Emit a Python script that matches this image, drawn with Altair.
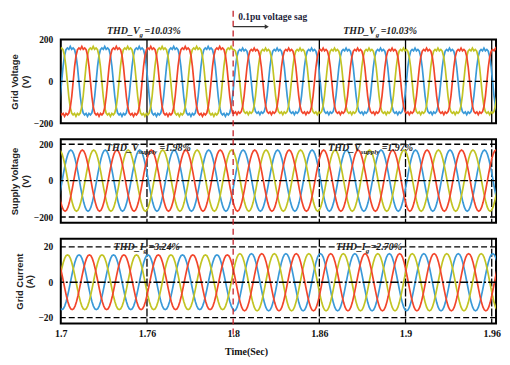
import altair as alt
import pandas as pd

# ---------------- data ----------------
X_MIN, X_MAX = 1.7, 1.9525
PERIOD = 0.02          # 50 Hz
SAG_TIME = 1.8
STEPS = 24             # samples per cycle (every 15 degrees)

phase_names = ["Phase A", "Phase B", "Phase C"]
phase_colors = ["#3b9ad8", "#c2c424", "#f2462c"]

# one cycle of each waveform, starting at the rising zero crossing (per unit of peak)
grid_v_cycle = [0.0, 0.42, 0.72, 0.88, 0.93, 0.89, 0.97, 0.89, 0.93, 0.88, 0.72, 0.42,
                0.0, -0.42, -0.72, -0.88, -0.93, -0.89, -0.97, -0.89, -0.93, -0.88, -0.72, -0.42]
sine_cycle = [0.0, 0.26, 0.50, 0.71, 0.87, 0.97, 1.0, 0.97, 0.87, 0.71, 0.50, 0.26,
              0.0, -0.26, -0.50, -0.71, -0.87, -0.97, -1.0, -0.97, -0.87, -0.71, -0.50, -0.26]

# time of first positive peak of each phase (blue, yellow, red) and peak amplitude before / after the sag
grid_v_peaks = [1.7055, 1.7188, 1.7122]
grid_v_amp = [172, 164]
supply_v_peaks = [1.7058, 1.7191, 1.7125]
supply_v_amp = [168, 168]
grid_i_peaks = [1.7106, 1.7039, 1.7166]
grid_i_amp = [15.5, 16.2]

x_tick_values = [1.7, 1.75, 1.8, 1.85, 1.9, 1.95]
x_tick_labels = ["1.7", "1.76", "1.8", "1.86", "1.9", "1.96"]
grid_lines_t = [1.75, 1.85, 1.9, 1.95]

thd_grid_v = ["=10.03%", "=10.03%"]
thd_supply = ["=1.98%", "=1.97%"]
thd_grid_i = ["=3.24%", "=2.70%"]


def build(cycle, peaks, amps):
    rows = []
    dt = PERIOD / STEPS
    for name, peak in zip(phase_names, peaks):
        start = peak - PERIOD / 4
        while start > X_MIN - dt:
            start -= PERIOD
        k = 0
        while True:
            t = start + k * dt
            if t > X_MAX + 2 * dt:
                break
            amp = amps[0] if t < SAG_TIME else amps[1]
            rows.append({"t": round(t, 6), "v": amp * cycle[k % STEPS], "phase": name})
            k += 1
    return pd.DataFrame(rows)


df1 = build(grid_v_cycle, grid_v_peaks, grid_v_amp)
df2 = build(sine_cycle, supply_v_peaks, supply_v_amp)
df3 = build(sine_cycle, grid_i_peaks, grid_i_amp)

W = 437
SERIF = "Liberation Serif"
SANS = "Liberation Sans"

label_expr = " : ".join(
    f"datum.value == {v} ? '{l}'" for v, l in zip(x_tick_values, x_tick_labels)
) + " : ''"

X_AXIS = alt.Axis(
    values=x_tick_values, labelExpr=label_expr, ticks=False, grid=False, domain=False,
    labelFlush=False, labelFont=SERIF, labelFontWeight="bold", labelFontSize=10,
    labelColor="#111", labelPadding=5,
    title="Time(Sec)", titleFont=SERIF, titleFontWeight="bold", titleFontSize=10,
    titleColor="#111", titleX=186, titleY=23, titleAlign="center")


def xe(show, field="t:Q", scale=False):
    kw = {}
    if scale:
        kw["scale"] = alt.Scale(domain=[X_MIN, X_MAX], nice=False, zero=False)
    return alt.X(field, axis=X_AXIS if show else None, **kw)


def y_axis(values, title):
    return alt.Axis(
        values=values, ticks=False, grid=False, domain=False,
        labelFont=SERIF, labelFontWeight="bold", labelFontSize=9.5, labelColor="#111",
        labelPadding=8, title=title, titleFont=SANS, titleFontWeight="bold",
        titleFontSize=9.5, titleColor="#222", titlePadding=3, titleLineHeight=11)


def tframe(t):
    return pd.DataFrame({"t": [t]})


def thd_text(show, x_anchor, y_px, main, sub, tail, sub_w):
    base = alt.Chart(tframe(x_anchor))
    common = dict(baseline="alphabetic", font=SERIF, fontStyle="italic",
                  fontWeight="bold", color="#222")
    a = base.mark_text(align="right", fontSize=10, **common).encode(
        x=xe(show), y=alt.value(y_px), text=alt.value(main))
    b = base.mark_text(align="left", fontSize=7, dy=3, **common).encode(
        x=xe(show), y=alt.value(y_px), text=alt.value(sub))
    c = base.mark_text(align="left", fontSize=10, dx=sub_w, **common).encode(
        x=xe(show), y=alt.value(y_px), text=alt.value(tail))
    return [a, b, c]


def panel(df, height, ydomain, yvalues, ytitle, limit, grid_dash, zero_dash,
          red_top, red_bottom, show_x, extra):
    yax = y_axis(yvalues, ytitle)
    lines = alt.Chart(df).mark_line(strokeWidth=1.7, clip=True).encode(
        x=xe(show_x, scale=True),
        y=alt.Y("v:Q", scale=alt.Scale(domain=ydomain, nice=False, zero=False), axis=yax),
        color=alt.Color("phase:N", scale=alt.Scale(domain=phase_names, range=phase_colors),
                        legend=None),
        detail="phase:N")
    vgrid = alt.Chart(pd.DataFrame({"t": grid_lines_t})).mark_rule(
        color="black", strokeWidth=1.3, strokeDash=grid_dash).encode(x=xe(show_x))
    layers = [vgrid, lines]
    zero = alt.Chart(pd.DataFrame({"v": [0]})).mark_rule(
        color="black", strokeWidth=1.4, strokeDash=zero_dash).encode(y=alt.Y("v:Q", axis=yax))
    layers.append(zero)
    if limit:
        lim = alt.Chart(pd.DataFrame({"v": [limit, -limit]})).mark_rule(
            color="black", strokeWidth=1.4, strokeDash=[6, 3]).encode(y=alt.Y("v:Q", axis=yax))
        layers.append(lim)
    layers.append(alt.Chart(tframe(SAG_TIME)).mark_rule(
        color="#c4232b", strokeWidth=1.3, strokeDash=[6, 4]).encode(
        x=xe(show_x), y=alt.value(red_top), y2=alt.value(height + red_bottom)))
    layers += extra
    return alt.layer(*layers).properties(width=W, height=height)


# panel 1 annotations
p1_extra = []
p1_extra += thd_text(False, 1.7457, -6, "THD_V", "g", thd_grid_v[0], 5)
p1_extra += thd_text(False, 1.8827, -6, "THD_V", "g", thd_grid_v[1], 5)
p1_extra.append(alt.Chart(tframe(1.8029)).mark_text(
    align="left", baseline="alphabetic", font=SERIF, fontWeight="bold", fontSize=9.5,
    color="#1d1d3a").encode(x=xe(False), y=alt.value(-20), text=alt.value("0.1pu voltage sag")))
p1_extra.append(alt.Chart(pd.DataFrame({"t": [1.8], "t2": [1.8195]})).mark_rule(
    color="#333", strokeWidth=1.2).encode(x=xe(False), x2="t2:Q", y=alt.value(-13)))
p1_extra.append(alt.Chart(tframe(1.8195)).mark_point(
    shape="triangle-right", filled=True, size=22, color="#333", opacity=1).encode(
    x=xe(False), y=alt.value(-13)))

p2_extra = []
p2_extra += thd_text(False, 1.7451, 12, "THD_V", "supply", thd_supply[0], 21)
p2_extra += thd_text(False, 1.8740, 12, "THD_V", "supply", thd_supply[1], 21)

p3_extra = []
p3_extra += thd_text(True, 1.7480, 11, "THD_I", "g", thd_grid_i[0], 5)
p3_extra += thd_text(True, 1.8769, 11, "THD_I", "g", thd_grid_i[1], 5)

c1 = panel(df1, 84, [-200, 200], [-200, 0, 200], ["Grid Voltage", "(V)"], None,
           [1, 0], [5, 3], -29, 17, False, p1_extra)
c2 = panel(df2, 84, [-232, 228], [-200, 0, 200], ["Supply Voltage", "(V)"], 200,
           [8, 2], [8, 2, 2, 2], 0, 16, False, p2_extra)
c3 = panel(df3, 85, [-23.3, 24.6], [-20, 0, 20], ["Grid Current", "(A)"], 20,
           [8, 2], [8, 2, 2, 2], 0, 14, True, p3_extra)

chart = alt.vconcat(c1, c2, c3, spacing=16, bounds="flush").properties(
    padding={"left": 0, "top": 0, "right": 0, "bottom": 0}
).configure_view(stroke="black", strokeWidth=2)

chart.save("out.html", embed_options={"renderer": "svg", "actions": False})
